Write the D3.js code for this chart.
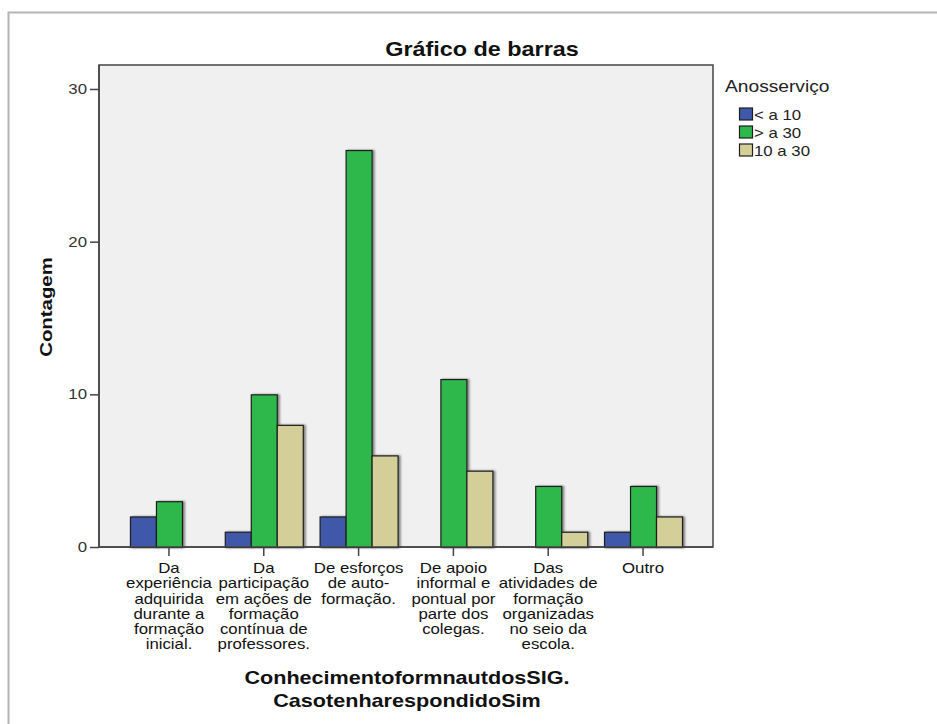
<!DOCTYPE html>
<html>
<head>
<meta charset="utf-8">
<script src="https://cdn.jsdelivr.net/npm/d3@7"></script>
<style>
  html, body { margin: 0; padding: 0; background: #fff; }
  svg { display: block; font-family: "Liberation Sans", Arial, sans-serif; }
</style>
</head>
<body>
<svg id="chart" width="937" height="724"></svg>
<script>
// Categories (each label split into its wrapped lines)
const categories = [
  ["Da", "experiência", "adquirida", "durante a", "formação", "inicial."],
  ["Da", "participação", "em ações de", "formação", "contínua de", "professores."],
  ["De esforços", "de auto-", "formação."],
  ["De apoio", "informal e", "pontual por", "parte dos", "colegas."],
  ["Das", "atividades de", "formação", "organizadas", "no seio da", "escola."],
  ["Outro"]
];
const seriesNames = ["< a 10", "> a 30", "10 a 30"];
const seriesColors = ["#3f58a9", "#2eb84c", "#d4cf98"];
const lessThan10 = [2, 1, 2, 0, 0, 1];
const moreThan30 = [3, 10, 26, 11, 4, 4];
const from10to30 = [0, 8, 6, 5, 1, 2];
const yTicks = [0, 10, 20, 30];

const seriesValues = [lessThan10, moreThan30, from10to30];

// text in this chart is rendered slightly wide
const SX = 1.2;

const svg = d3.select("#chart");

// wide text helper: anchor point (x, y), horizontal stretch
function wideText(parent, x, y, str, opts) {
  const g = parent.append("g")
    .attr("transform", `translate(${x},${y})${opts.rotate ? " rotate(" + opts.rotate + ")" : ""} scale(${SX},1)`);
  const t = g.append("text")
    .attr("x", 0).attr("y", 0)
    .attr("text-anchor", opts.anchor || "middle")
    .style("font-size", opts.size + "px")
    .style("font-weight", opts.bold ? "bold" : "normal")
    .attr("fill", opts.fill || "#111");
  if (Array.isArray(str)) {
    str.forEach((ln, k) => {
      t.append("tspan").attr("x", 0).attr("dy", k === 0 ? 0 : opts.lineH).text(ln);
    });
  } else {
    t.text(str);
  }
  return t;
}

// outer frame
svg.append("path")
  .attr("d", "M8.5,724 V12.5 H937")
  .attr("fill", "none")
  .attr("stroke", "#b4b4b4")
  .attr("stroke-width", 2);

const plot = { left: 99, right: 713, top: 65, bottom: 547 };

const x = d3.scaleBand()
  .domain(d3.range(categories.length))
  .range([plot.left, plot.right])
  .paddingInner(0)
  .paddingOuter(0.238);

const y = d3.scaleLinear()
  .domain([0, 31.57])
  .range([plot.bottom, plot.top]);

const barW = 26;
const xs = d3.scaleBand()
  .domain(d3.range(seriesNames.length))
  .range([-barW * 1.5, barW * 1.5]);

// plot background
svg.append("rect")
  .attr("x", plot.left).attr("y", plot.top)
  .attr("width", plot.right - plot.left).attr("height", plot.bottom - plot.top)
  .attr("fill", "#f0f0f0")
  .attr("stroke", "#444").attr("stroke-width", 1.5);

// soft shadow for bars
const defs = svg.append("defs");
const f = defs.append("filter").attr("id", "shadow").attr("x", "-20%").attr("y", "-20%").attr("width", "150%").attr("height", "150%");
f.append("feGaussianBlur").attr("in", "SourceAlpha").attr("stdDeviation", 0.8).attr("result", "b");
f.append("feOffset").attr("in", "b").attr("dx", 1.5).attr("dy", 0).attr("result", "o");
f.append("feComponentTransfer").attr("in", "o").attr("result", "o2")
  .append("feFuncA").attr("type", "linear").attr("slope", 0.45);
const m = f.append("feMerge");
m.append("feMergeNode").attr("in", "o2");
m.append("feMergeNode").attr("in", "SourceGraphic");

// bars
const bars = [];
categories.forEach((c, i) => {
  seriesValues.forEach((vals, s) => {
    if (vals[i] > 0) bars.push({ i, s, v: vals[i] });
  });
});

svg.append("g").selectAll("rect")
  .data(bars)
  .join("rect")
  .attr("x", d => x(d.i) + x.bandwidth() / 2 + xs(d.s) + 0.5)
  .attr("y", d => y(d.v) + 0.5)
  .attr("width", barW)
  .attr("height", d => y(0) - y(d.v))
  .attr("fill", d => seriesColors[d.s])
  .attr("stroke", "#1e1e1e")
  .attr("stroke-width", 1.2)
  .attr("filter", "url(#shadow)");

// axis lines on top of bars
svg.append("line")
  .attr("x1", plot.left).attr("x2", plot.right)
  .attr("y1", plot.bottom).attr("y2", plot.bottom)
  .attr("stroke", "#444").attr("stroke-width", 1.5);
svg.append("line")
  .attr("x1", plot.left).attr("x2", plot.left)
  .attr("y1", plot.top).attr("y2", plot.bottom)
  .attr("stroke", "#444").attr("stroke-width", 1.5);

// y axis
const yAxis = svg.append("g")
  .attr("transform", `translate(${plot.left},0)`)
  .call(d3.axisLeft(y).tickValues(yTicks).tickSize(9).tickFormat(""));
yAxis.select(".domain").remove();
yAxis.selectAll(".tick line").attr("stroke", "#444").attr("stroke-width", 1.5);
yTicks.forEach(v => {
  wideText(svg, plot.left - 12, y(v) + 5, String(v), { size: 14, anchor: "end", fill: "#333" });
});

// x axis
const xAxis = svg.append("g")
  .attr("transform", `translate(0,${plot.bottom})`)
  .call(d3.axisBottom(x).tickSize(9).tickFormat(""));
xAxis.select(".domain").remove();
xAxis.selectAll(".tick line").attr("stroke", "#444").attr("stroke-width", 1.5);

// category labels
categories.forEach((lines, i) => {
  wideText(svg, x(i) + x.bandwidth() / 2, 573, lines, { size: 14, lineH: 15.3, fill: "#111" });
});

// title
wideText(svg, 482, 56, "Gráfico de barras", { size: 19.5, bold: true });

// y axis title
wideText(svg, 52, 307, "Contagem", { size: 17, bold: true, rotate: -90 });

// x axis title
wideText(svg, 407, 684, ["ConhecimentoformnautdosSIG.", "CasotenharespondidoSim"], { size: 18, bold: true, lineH: 23 });

// legend
wideText(svg, 725, 92, "Anosserviço", { size: 16, anchor: "start", fill: "#222" });
seriesNames.forEach((n, s) => {
  const yy = 107.5 + s * 18;
  svg.append("rect")
    .attr("x", 739.5).attr("y", yy + 0.5)
    .attr("width", 13).attr("height", 12)
    .attr("fill", seriesColors[s])
    .attr("stroke", "#1e1e1e").attr("stroke-width", 1.2);
  wideText(svg, 754, yy + 12.5, n, { size: 14, anchor: "start", fill: "#222" });
});
</script>
</body>
</html>
